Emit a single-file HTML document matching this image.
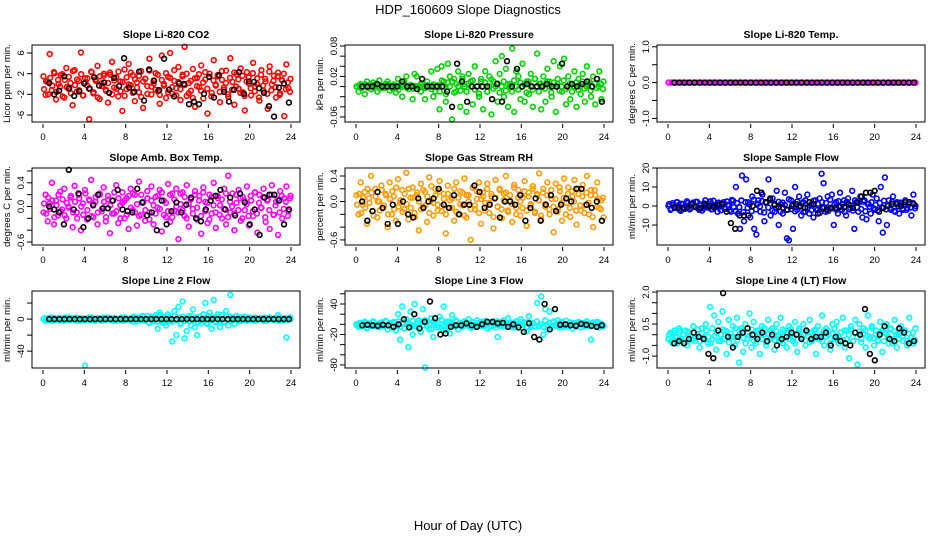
<!DOCTYPE html>
<html><head><meta charset="utf-8">
<style>
html,body{margin:0;padding:0;background:#fff;}
svg{display:block;font-family:"Liberation Sans",sans-serif;}
</style></head>
<body>
<svg id="chart" width="936" height="540" viewBox="0 0 936 540" xmlns="http://www.w3.org/2000/svg">
<rect width="936" height="540" fill="#fff"/>
<text x="468" y="14" text-anchor="middle" font-size="13">HDP_160609  Slope Diagnostics</text>
<text x="468" y="530" text-anchor="middle" font-size="13">Hour of Day (UTC)</text>
<g id="panels"></g>
</svg>
<script>
// ---------- data ----------
const hourTicks = [0,4,8,12,16,20,24];

const co2Vals = [1.5,-2.1,0.4,5.8,-1.2,2.3,-3.0,0.8,-0.5,1.9,-2.6,3.1,-0.9,0.2,-4.1,2.7,-1.5,0.6,6.1,-2.2,1.1,-0.3,-6.8,2.4,-1.8,0.9,3.5,-2.9,0.1,1.6,-1.1,-3.6,2.2,4.3,-0.7,1.3,-2.4,0.5,-5.2,2.8,-1.0,3.9,-0.2,1.7,-3.3,0.3,-1.6,2.5,-4.6,1.0,-0.4,4.9,-2.0,0.7,2.1,-1.4,-3.8,5.5,0.0,-2.7,1.4,6.0,-1.9,0.6,-0.8,3.3,-3.1,1.8,7.2,-2.3,0.2,-1.3,2.9,-4.4,1.2,-0.6,3.6,-2.8,0.9,-5.7,2.0,-1.7,4.6,-0.3,1.5,-3.5,0.8,-1.1,2.6,-2.5,5.0,0.4,-4.0,1.9,-0.9,3.0,-1.6,-5.1,2.3,0.1,-2.2,4.1,-0.5,1.1,-3.2,2.7,-1.3,0.5,-4.8,3.4,-0.1,1.6,-2.6,2.2,-1.8,0.7,-6.2,3.8,-0.8,1.0];
const co2Core = [-1.0,0.5,-2.0,1.2,-0.3,2.1,-1.5,0.0,1.7,-2.4,0.8,-0.6,1.4,-1.8,2.5,-0.2,0.9,-1.2,1.9,-2.2,0.3,1.1,-0.8,2.3,-1.6,0.6,-2.6,1.5,-0.4,2.0,-1.3,0.2,1.8,-2.0,0.7,-0.9,2.4,-1.4,0.4,-2.3,1.3,-0.1,2.2,-1.7,0.9,-0.7,1.6,-2.5,0.5,1.0,-1.9,2.6,-0.5,0.1,-1.1,1.8,-2.1,0.8,-0.3,2.1,-1.6,1.2,-0.6,2.7,-2.2,0.4,-1.0,1.5,-0.2,2.0,-1.8,0.6,-2.7,1.1,-0.4,1.9,-1.3,0.3,2.3,-0.9,1.4,-2.4,0.7,-0.1,1.7,-1.5,2.5,-0.7,0.2,-2.0,1.2,-1.1,2.2,-0.5,0.9,-1.7,1.6,-2.3,0.5,1.3,-0.8,2.1,-1.4,0.0,-2.6,1.8,-0.3,1.0,-1.9,2.4,-1.2,0.6,-0.6,1.5,-2.1,0.8,2.0,-1.0,0.3,-1.5];
const co2Black = [0.2,-2.0,-1.3,1.5,-0.8,-2.3,-1.4,0.1,-0.9,1.3,-0.3,0.3,-1.7,1.2,-0.4,5.0,-0.7,-1.5,2.4,-3.2,2.8,0.6,-1.2,4.9,-1.1,-2.4,0.1,0.0,-3.9,-3.4,-3.9,-1.9,1.4,-2.6,1.7,-1.5,-3.4,-1.1,2.3,-1.9,0.5,0.4,-0.8,-1.7,-4.3,-6.3,-0.7,0.1,-3.6];

const presVals = [0,-0.01,0.005,0,-0.015,0.01,0,-0.005,0.008,0,-0.01,0.012,0,-0.003,0.005,0.01,-0.008,0,0.004,-0.012,0.015,0,-0.02,0.01,0.02,-0.005,0,-0.025,0.025,0.02,0,-0.01,0.005,-0.025,0.01,0,0.03,-0.02,-0.01,0.035,-0.045,0.04,0.01,-0.03,0.045,0.02,-0.065,0.015,-0.01,0.03,-0.04,0.02,0.005,-0.05,0.025,0.01,-0.035,0.04,0,-0.02,0.015,-0.045,0.03,-0.01,0.02,-0.055,0.01,0.05,-0.03,0.025,0.06,-0.02,0.035,-0.04,0.005,0.075,-0.05,0.03,0.02,-0.025,0.045,-0.03,0.01,-0.015,0.025,-0.04,0.015,0.065,0.005,-0.045,0.02,-0.03,0.035,0.01,-0.02,0.05,-0.05,0.015,0.04,-0.01,0.055,-0.035,0.02,-0.025,0.005,0.03,-0.04,0.015,-0.015,0.025,-0.03,0.04,0.01,-0.02,0.02,-0.035,0.015,0.03,-0.025,0.01];
const presCore = [0,0.002,-0.003,0,0.004,-0.002,0,-0.005,0.003,0,0.002,-0.004,0,0.001,-0.002,0.005,0,-0.003,0.002,0,-0.006,0.003,0,0.004,-0.002,0,0.003,-0.004,0.001,0,-0.002,0.006,0,-0.003,0.002,0,-0.005,0.004,0,0.002,-0.01,0.012,0,-0.015,0.008,0,0.01,-0.012,0.005,0,-0.008,0.015,0,-0.01,0.006,0,0.012,-0.006,0,-0.014,0.01,0,0.008,-0.01,0,0.014,-0.004,0,0.006,-0.012,0,0.01,-0.008,0.004,0,-0.01,0.012,0,-0.006,0.008,0,0.004,-0.012,0.01,0,-0.006,0.015,0,-0.01,0.006,0,-0.004,0.01,0,-0.012,0.008,0,0.005,-0.008,0,0.012,-0.005,0,0.006,-0.01,0,0.008,-0.006,0,0.01,-0.004,0,0.004,-0.008,0,0.006,-0.003,0,0.005,-0.005];
const presBlack = [0,0,0,0.005,0,0,0,0,0.01,0,0,-0.005,0.015,0,0,0,0,-0.01,-0.04,0.045,0.01,-0.03,0,0,0,0,-0.025,0.005,-0.03,0.05,0,0.035,0,0.005,0,0,0,0.005,0,0,0.045,0,0.005,0,0.005,0.01,0,0.015,-0.03];

const tempVals = [0,0,0,0,0,0,0,0,0,0,0,0,0,0,0,0,0,0,0,0,0,0,0,0,0,0,0,0,0,0,0,0,0,0,0,0,0,0,0,0,0,0,0,0,0,0,0,0,0,0,0,0,0,0,0,0,0,0,0,0,0,0,0,0,0,0,0,0,0,0,0,0,0,0,0,0,0,0,0,0];
const tempCore = [0,0,0,0,0,0,0,0,0,0,0,0,0,0,0,0,0,0,0,0,0,0,0,0,0,0,0,0,0,0,0,0,0,0,0,0,0,0,0,0];
const tempBlack = [0,0,0,0,0,0,0,0,0,0,0,0,0,0,0,0,0,0,0,0,0,0,0,0,0,0,0,0,0,0,0,0,0,0,0,0,0,0,0,0,0,0,0,0,0,0,0,0];

const ambVals = [-0.1,0.2,-0.25,0.05,0.4,-0.3,0.1,-0.15,0.25,-0.05,0.3,-0.2,0.0,0.15,-0.35,0.35,-0.1,0.2,-0.4,0.05,0.28,-0.22,0.12,0.45,-0.18,0.08,-0.3,0.22,-0.08,0.32,-0.25,0.18,-0.45,0.1,-0.12,0.36,-0.28,0.02,0.24,-0.2,0.14,-0.38,0.3,-0.06,0.2,-0.32,0.42,-0.14,0.06,-0.24,0.26,-0.1,0.34,-0.3,0.16,-0.02,0.28,-0.42,0.1,-0.18,0.38,-0.26,0.22,-0.08,0.3,-0.55,0.04,0.24,-0.16,0.36,-0.34,0.12,-0.04,0.26,-0.22,0.18,-0.46,0.32,0.08,-0.28,0.2,-0.12,0.4,-0.36,0.14,0.02,-0.2,0.3,-0.3,0.52,-0.1,0.22,-0.4,0.06,0.28,-0.24,0.16,-0.06,0.34,-0.32,0.1,-0.16,0.24,-0.44,0.2,-0.02,0.3,-0.26,0.12,-0.38,0.36,-0.14,0.08,-0.48,0.26,-0.2,0.14,0.34,-0.08,0.18];
const ambCore = [0.05,-0.12,0.15,-0.04,0.1,-0.18,0.02,0.2,-0.08,0.12,-0.15,0.06,-0.02,0.18,-0.1,0.08,-0.2,0.14,0.0,-0.14,0.22,-0.06,0.1,-0.16,0.04,0.16,-0.1,0.2,-0.04,0.08,-0.18,0.12,0.02,-0.12,0.24,-0.08,0.14,-0.2,0.06,0.1,-0.14,0.18,-0.02,0.22,-0.1,0.04,-0.16,0.2,0.08,-0.06,0.14,-0.22,0.1,0.02,-0.12,0.18,-0.04,0.24,-0.14,0.06,-0.08,0.2,-0.18,0.12,0.0,-0.1,0.22,-0.06,0.16,-0.2,0.04,0.14,-0.12,0.2,-0.02,0.1,-0.16,0.24,-0.08,0.06,-0.22,0.16,0.02,-0.1,0.18,-0.14,0.12,-0.04,0.22,-0.18,0.08,0.0,-0.12,0.2,-0.06,0.14,-0.2,0.1,0.04,-0.16,0.18,-0.08,0.24,-0.12,0.06,-0.02,0.16,-0.18,0.1,-0.06,0.2,-0.14,0.02,0.12,-0.1,0.18,-0.04,0.08,-0.16,0.14];
const ambBlack = [0.0,-0.05,-0.1,-0.3,0.62,-0.05,0.22,-0.35,-0.2,0.02,0.2,-0.03,-0.03,0.1,0.28,-0.05,-0.08,-0.1,0.3,0.07,-0.15,-0.1,-0.4,0.1,-0.3,-0.08,0.07,-0.1,0.03,0.15,-0.2,-0.25,-0.05,0.1,0.18,0.28,-0.05,0.15,-0.15,0.22,0.07,-0.3,-0.05,-0.48,0.15,0.2,0.2,0.1,-0.3,-0.05];

const rhVals = [0.1,-0.2,0.3,-0.05,0.15,-0.35,0.05,0.4,-0.15,0.2,-0.25,0.0,0.25,-0.1,0.12,-0.4,0.3,-0.2,0.08,-0.3,0.35,-0.02,0.18,-0.12,0.45,-0.28,0.06,0.22,-0.18,0.1,-0.45,0.28,-0.08,0.15,-0.32,0.38,0.02,-0.22,0.2,-0.05,0.32,-0.15,0.12,-0.5,0.25,-0.1,0.05,-0.3,0.3,-0.2,0.16,-0.06,0.36,-0.25,0.1,-0.6,0.22,-0.12,0.04,0.3,-0.35,0.14,-0.02,0.28,-0.18,0.08,-0.42,0.34,-0.08,0.2,-0.26,0.12,0.4,-0.14,0.02,-0.32,0.26,-0.1,0.18,-0.22,0.06,0.32,-0.38,0.14,-0.04,0.24,-0.16,0.1,0.44,-0.28,0.2,-0.08,0.3,-0.2,0.04,-0.48,0.28,-0.12,0.16,-0.3,0.36,-0.02,0.22,-0.24,0.08,0.34,-0.36,0.12,-0.14,0.26,-0.06,0.4,-0.2,0.18,-0.4,0.1,0.3,-0.1,0.02,-0.25];
const rhCore = [-0.05,0.12,-0.18,0.06,-0.1,0.2,-0.02,0.14,-0.22,0.08,0.0,-0.14,0.18,-0.06,0.1,-0.2,0.04,0.16,-0.12,0.22,-0.08,0.02,-0.16,0.12,-0.04,0.2,-0.1,0.06,-0.24,0.14,0.0,-0.12,0.18,-0.06,0.08,-0.18,0.24,-0.02,0.1,-0.14,0.16,-0.08,0.04,-0.2,0.12,0.02,-0.1,0.2,-0.16,0.06,-0.04,0.14,-0.22,0.1,0.0,-0.12,0.22,-0.06,0.16,-0.18,0.04,0.08,-0.14,0.2,-0.02,0.12,-0.24,0.06,-0.08,0.18,-0.12,0.02,0.14,-0.16,0.1,-0.04,0.22,-0.2,0.06,0.0,-0.1,0.16,-0.14,0.08,-0.06,0.2,-0.18,0.12,0.02,-0.22,0.14,-0.04,0.1,-0.12,0.18,-0.08,0.04,-0.16,0.22,-0.02,0.06,-0.2,0.12,-0.1,0.16,0.0,-0.14,0.2,-0.06,0.08,-0.18,0.14,-0.02,0.1,-0.24,0.18,-0.08,0.04,-0.12,0.06];
const rhBlack = [0.0,-0.3,-0.15,0.15,-0.1,-0.35,-0.05,-0.35,0.0,-0.2,-0.25,0.05,-0.1,0.0,0.05,0.2,-0.05,-0.1,0.1,-0.2,-0.05,-0.05,0.25,0.15,-0.1,-0.05,0.05,-0.25,0.0,0.0,-0.05,0.1,-0.3,-0.1,0.05,-0.3,-0.05,0.1,-0.15,-0.05,0.05,0.0,0.2,0.2,-0.05,-0.1,0.0,-0.3];

const sfVals = [0,-2,1.5,-1,2,0.5,-2.5,1,-1.5,2.5,0,-1,1.8,-0.5,2.2,-2,0.8,-1.2,3,-0.8,1.2,-1.8,2.8,0.2,-3,1,-0.3,2,-1.5,0.6,-2.2,3.2,-0.6,10,-4,-12,16,-8,14,2,-6,5,-12,-15,3,-3,6,-8,2,14,-5,4,-3,8,-10,1,-4,7,-17,-18,3,-12,10,-2,5,-5,2,-3,6,-4,1,-6,3,-2,4,17,12,-3,5,-1,6,-10,2,-4,7,-2,3,-5,4,-1,8,-12,2,-3,5,-6,3,-7,1,-4,6,-2,4,-8,10,-14,15,-10,3,-2,5,-3,2,-4,1,-2,3,-1,2,-5,6,0];
const sfCore = [1,-1.5,0.5,-0.5,2,-2,1.2,-1,0.2,1.6,-1.8,0.8,-0.2,2.2,-1.2,0.4,-2.4,1.4,0,-0.8,2.5,-1.6,0.6,-0.4,1.8,-2.2,1,-1.4,2.4,0.3,-3,2.8,-2.6,1.5,-0.6,3,-3.2,2,-1,0.8,-2.8,3.4,-1.8,1.2,-0.2,2.6,-3.4,1.6,-0.8,3.2,-2.4,0.4,-1.2,2.2,-3,1.8,0.6,-2,3.6,-1.6,1,-2.8,2.4,-0.4,1.4,-3.2,3,-1,0.2,-2.2,2.8,-1.4,1.2,-3.6,2,-0.6,1.6,-2.6,3.4,-1.2,0.8,-2,2.6,-0.2,1,-3,2.2,-1.8,0.4,-2.4,3,-0.8,1.8,-1.6,2.4,-2.8,1.2,-0.4,2,-1.2,0.6,-2.2,1.6,-0.6,2.8,-1.8,0.2,-1,2.2,-2.6,1.4,-0.2,1.8,-1.4,0.8,-2,1,-0.8,1.6,-1.2];
const sfBlack = [-0.5,-1,-1,-1,1,-0.5,-1,1,0,-0.5,0.5,1,-3,-9,-12,-5,-5,-5,0,8,7,2,4,1,-0.5,-1,-2,0,1,0,-1,2,1,-4,-1,-2,-1,-1,-0.5,-0.5,1,-1,2,5,7,7,8,-3,-1,0,1,1,0,2,2,1];

const l2Vals = [0,-2,1,-1,2,0,-1,1,-2,0,1,-1,2,-1,0,1,-2,1,0,-1,-58,1,-1,2,0,-1,1,0,-2,1,-1,2,0,-1,1,-2,0,1,-1,2,0,-1,1,-3,2,0,-1,1,3,-2,4,-5,2,-3,5,-12,8,-4,3,-8,6,-2,-28,10,-20,15,-6,22,-24,-15,4,-8,12,-10,-20,3,-5,6,20,-6,8,-12,24,-4,6,-10,5,-3,10,-8,30,2,-6,4,-3,2,-1,3,-2,1,0,-1,2,-1,1,0,-2,1,-1,2,0,-1,1,5,-2,0,1,-23,-1,0];
const l2Core = [1,-1,0,2,-2,1,-1,0,1,-2,2,0,-1,1,-1,2,0,-2,1,-1,0,2,-1,1,-2,0,1,-1,2,-1,0,1,-2,1,0,-1,2,-2,1,0,-1,1,3,-3,2,-1,4,-2,1,-4,3,-1,2,-3,5,-2,1,-4,3,0,-3,4,-1,2,-5,3,-2,1,-3,4,-1,2,-4,3,-2,1,-5,4,-1,2,-3,3,-2,0,-4,4,-1,3,-2,1,-1,2,-2,1,0,-1,2,-1,1,-2,0,1,-1,2,-2,1,0,-1,1,-2,2,0,-1,1,-1,2];
const l2Black = [0,0,0,0,0,0,0,0,0,0,0,0,0,0,0,0,0,0,0,0,0,0,0,0,0,0,0,0,0,0,0,0,0,0,0,0,0,0,0,0,0,0,0,0,0,0,0,0];

const l3Vals = [0,-5,3,-3,5,-8,2,-2,6,-4,1,-6,4,-1,7,-10,3,-3,5,-12,20,-30,35,-8,10,-45,25,-20,40,-5,8,-15,30,-85,5,-10,12,-25,4,-6,15,-8,35,-12,6,-18,18,-3,8,-10,2,-4,6,-2,10,-7,3,-5,8,-1,5,-3,7,-8,2,-4,6,-6,-25,4,-2,8,-3,12,-5,3,-6,6,-2,10,-8,4,-14,16,-5,2,-4,42,-30,55,-20,30,-10,25,-4,6,-3,8,-6,2,-5,7,-2,4,-8,3,-1,5,-6,2,-4,6,-3,-30,4,-2,5,-6,1,-3];
const l3Core = [-2,2,-4,0,3,-6,1,-3,4,-1,-5,2,0,-4,5,-2,1,-7,3,-1,6,-4,2,-8,4,0,-5,7,-3,1,-6,5,-2,8,-4,0,-9,6,-1,3,-6,9,-3,2,-7,5,0,-4,6,-2,3,-5,1,4,-3,-1,5,-4,2,0,-3,4,-2,1,-5,3,0,-1,6,-3,2,-4,4,-2,0,-5,3,1,-3,5,-1,2,-6,4,-2,1,-4,6,-3,0,-5,8,-2,3,-6,4,-1,1,-3,5,-2,0,-4,3,-1,2,-5,4,0,-2,3,-3,1,-4,2,0,-2,3,-1,-3];
const l3Black = [-2,-1,-2,-3,-1,-2,-5,0,10,-6,20,-8,5,45,12,-20,-18,-5,-2,-2,2,-2,-5,0,5,5,2,3,-5,0,-6,-15,2,-25,-30,40,-10,30,-1,0,-2,-3,1,-1,-3,-5,-2];

const l4Vals = [-0.2,0.1,-0.4,0.2,-0.1,0.3,-0.3,0.0,0.2,-0.5,0.1,-0.2,0.4,-0.3,0.0,-0.6,0.3,-0.1,0.5,-0.4,1.3,-0.2,0.9,-0.7,0.6,-0.3,1.1,0.2,-0.9,0.7,-0.1,0.4,-0.5,0.8,-1.3,0.3,-0.8,0.5,-0.2,1.0,-0.6,0.6,-0.4,0.2,-0.9,0.4,0.0,-0.5,0.7,-0.2,0.3,-0.7,0.5,-0.1,0.8,-0.4,0.2,-0.6,0.4,0.0,-0.3,0.6,-0.8,0.3,-0.1,0.5,-0.5,0.1,0.7,-0.3,0.2,-0.9,0.4,-0.2,0.9,-0.5,0.3,0.0,-0.7,0.5,-0.2,0.6,-0.4,0.1,0.8,-0.6,0.2,-1.1,0.4,-0.3,0.7,-1.4,0.5,-0.2,0.3,-0.6,0.9,-0.1,0.4,-0.5,0.2,-0.3,0.6,-0.8,0.1,0.5,-0.4,0.3,-0.2,0.7,-0.6,0.0,0.4,-0.3,0.2,-0.5,0.8,-0.1,-0.4,0.3];
const l4Core = [0.0,-0.3,0.1,-0.1,-0.4,0.2,-0.2,0.0,-0.35,0.15,-0.05,-0.25,0.1,-0.15,0.25,-0.3,0.05,-0.2,0.2,-0.1,-0.4,0.3,-0.05,0.1,-0.3,0.0,0.25,-0.2,0.15,-0.35,0.05,-0.1,0.3,-0.25,0.0,0.2,-0.15,-0.4,0.1,-0.05,0.25,-0.3,0.15,-0.1,0.0,-0.2,0.3,-0.35,0.05,0.2,-0.1,-0.25,0.15,0.0,-0.3,0.25,-0.05,0.1,-0.2,0.3,-0.15,-0.4,0.05,0.2,-0.1,0.0,-0.25,0.15,-0.35,0.1,-0.05,0.25,-0.2,0.0,-0.3,0.2,-0.1,0.15,-0.4,0.05,0.3,-0.15,-0.05,0.1,-0.25,0.2,-0.2,0.0,0.25,-0.3,0.1,-0.1,0.15,-0.35,0.05,0.2,-0.05,-0.2,0.3,-0.15,0.0,-0.25,0.1,0.2,-0.3,0.05,-0.1,0.25,-0.4,0.15,0.0,-0.2,0.1,-0.05,0.2,-0.3,0.05,-0.15,0.1,-0.25];
const l4Black = [-0.4,-0.3,-0.4,-0.2,0.1,-0.1,-0.2,-0.9,-1.1,0.2,1.95,-0.1,-0.6,-0.1,0.1,0.3,0.0,-0.2,0.1,-0.3,0.0,-0.5,-0.2,-0.1,0.1,0.0,-0.2,0.2,-0.2,-0.1,-0.1,0.1,-0.5,-0.1,-0.3,-0.4,-0.5,0.1,0.0,1.2,-0.9,-1.2,0.0,0.4,-0.2,-0.3,0.3,0.1,-0.4,-0.3];

const co2Ticks=[-6,-2,2,6], co2Labels=["-6","-2","2","6"];
const presTicks=[-0.06,-0.04,-0.02,0,0.02,0.04,0.06,0.08], presLabels=["-0.06","","","","0.02","","","0.08"];
const tempTicks=[-1,-0.5,0,0.5,1], tempLabels=["-1.0","","0.0","","1.0"];
const ambTicks=[-0.6,-0.4,-0.2,0,0.2,0.4,0.6], ambLabels=["-0.6","","","0.0","","0.4",""];
const rhTicks=[-0.6,-0.4,-0.2,0,0.2,0.4], rhLabels=["-0.6","","","0.0","","0.4"];
const sfTicks=[-10,0,10,20], sfLabels=["-10","0","10","20"];
const l2Ticks=[-40,-20,0,20], l2Labels=["-40","","0",""];
const l3Ticks=[-80,-60,-40,-20,0,20,40,60], l3Labels=["-80","","","-20","","","40",""];
const l4Ticks=[-1,-0.5,0,0.5,1,1.5,2], l4Labels=["-1.0","","","0.5","","","2.0"];

// ---------- drawing ----------
const NS="http://www.w3.org/2000/svg";
const root=document.getElementById('panels');
function el(tag,attrs,parent){const e=document.createElementNS(NS,tag);for(const k in attrs)e.setAttribute(k,attrs[k]);(parent||root).appendChild(e);return e;}

const panels=[
 {title:"Slope Li-820 CO2",ylab:"Licor ppm per min.",col:0,row:0,ymin:-7.35,ymax:7.55,ticks:co2Ticks,labels:co2Labels,vals:co2Vals,core:co2Core,black:co2Black,color:"#ff0000",key:"co2"},
 {title:"Slope Li-820 Pressure",ylab:"kPa per min.",col:1,row:0,ymin:-0.07,ymax:0.082,ticks:presTicks,labels:presLabels,vals:presVals,core:presCore,black:presBlack,color:"#00d000",key:"pressure"},
 {title:"Slope Li-820 Temp.",ylab:"degrees C per min.",col:2,row:0,ymin:-1.1,ymax:1.05,ticks:tempTicks,labels:tempLabels,vals:tempVals,core:tempCore,black:tempBlack,color:"#ff00ff",key:"temp"},
 {title:"Slope Amb. Box Temp.",ylab:"degrees C per min.",col:0,row:1,ymin:-0.65,ymax:0.65,ticks:ambTicks,labels:ambLabels,vals:ambVals,core:ambCore,black:ambBlack,color:"#ff00ff",key:"amb-temp"},
 {title:"Slope Gas Stream RH",ylab:"percent per min.",col:1,row:1,ymin:-0.68,ymax:0.525,ticks:rhTicks,labels:rhLabels,vals:rhVals,core:rhCore,black:rhBlack,color:"#ff9a00",key:"rh"},
 {title:"Slope Sample Flow",ylab:"ml/min per min.",col:2,row:1,ymin:-20.5,ymax:20,ticks:sfTicks,labels:sfLabels,vals:sfVals,core:sfCore,black:sfBlack,color:"#0000ff",key:"sample-flow"},
 {title:"Slope Line 2 Flow",ylab:"ml/min per min.",col:0,row:2,ymin:-61,ymax:35,ticks:l2Ticks,labels:l2Labels,vals:l2Vals,core:l2Core,black:l2Black,color:"#00ffff",key:"line2-flow"},
 {title:"Slope Line 3 Flow",ylab:"ml/min per min.",col:1,row:2,ymin:-86,ymax:65.6,ticks:l3Ticks,labels:l3Labels,vals:l3Vals,core:l3Core,black:l3Black,color:"#00ffff",key:"line3-flow"},
 {title:"Slope Line 4 (LT) Flow",ylab:"ml/min per min.",col:2,row:2,ymin:-1.56,ymax:2.05,ticks:l4Ticks,labels:l4Labels,vals:l4Vals,core:l4Core,black:l4Black,color:"#00ffff",key:"line4-flow"}
];

const colX=[32,345,657], rowY=[45,168,291], W=268, H=77;

panels.forEach(p=>{
  const L=colX[p.col], T=rowY[p.row];
  const g=el('g',{});
  
  
  const xs=h=>L+11+h*(248/24);
  const ys=v=>T+H-(v-p.ymin)/(p.ymax-p.ymin)*H;
  const t=el('text',{x:L+W/2,y:T-7,'text-anchor':'middle','font-size':'10.5','font-weight':'bold'},g);
  t.textContent=p.title;
  
  
  const yt=el('text',{x:0,y:0,'text-anchor':'middle','font-size':'9.5',transform:`translate(${L-22},${T+H/2}) rotate(-90)`},g);
  yt.textContent=p.ylab;
  
  
  const nc=p.core.length;
  p.core.forEach((v,i)=>{
    const h=0.1+i*23.8/(nc-1);
    const c=el('circle',{cx:xs(h).toFixed(1),cy:ys(v).toFixed(1),r:2.4,fill:'none',stroke:p.color,'stroke-width':1.6},g);
    
    
  });
  const n=p.vals.length;
  p.vals.forEach((v,i)=>{
    const h=0.05+i*23.9/(n-1);
    const c=el('circle',{cx:xs(h).toFixed(1),cy:ys(v).toFixed(1),r:2.4,fill:'none',stroke:p.color,'stroke-width':1.6},g);
    
    
  });
  const m=p.black.length;
  p.black.forEach((v,i)=>{
    const h=0.6+i*23.2/(m-1);
    const c=el('circle',{cx:xs(h).toFixed(1),cy:ys(v).toFixed(1),r:2.4,fill:'none',stroke:'#000','stroke-width':1.6},g);
    
    
  });
  const b=el('rect',{x:L,y:T,width:W,height:H,fill:'none',stroke:'#000','stroke-width':1},g);
  
  
  hourTicks.forEach(h=>{
    const x=xs(h);
    el('line',{x1:x,x2:x,y1:T+H+2,y2:T+H+6,stroke:'#000'},g);
    const lt=el('text',{x:x,y:T+H+18,'text-anchor':'middle','font-size':'9.5'},g);
    lt.textContent=String(h);
    
    
  });
  p.ticks.forEach((v,i)=>{
    const y=ys(v);
    el('line',{x1:L-5,x2:L,y1:y,y2:y,stroke:'#000'},g);
    if(p.labels[i]){
      const lt=el('text',{x:0,y:0,'text-anchor':'middle','font-size':'9.5',transform:`translate(${L-8},${y}) rotate(-90)`},g);
      lt.textContent=p.labels[i];
      
      
    }
  });
});
</script>
</body></html>
